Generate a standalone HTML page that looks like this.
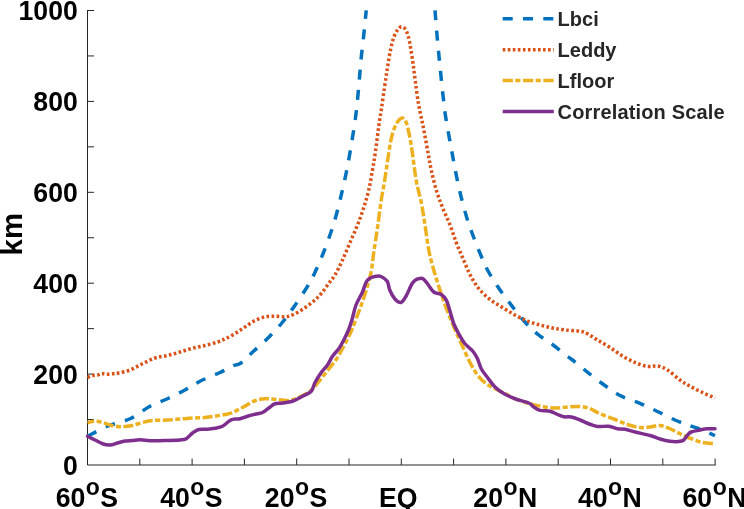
<!DOCTYPE html>
<html lang="en"><head><meta charset="utf-8"><title>Length scales</title>
<style>html,body{margin:0;padding:0;background:#fff}svg{display:block;will-change:transform}text{font-family:"Liberation Sans",Arial,Helvetica,sans-serif;font-weight:bold}</style></head><body>
<svg width="744" height="509" viewBox="0 0 744 509">
<rect width="744" height="509" fill="#fff"/>
<g stroke="#262626" stroke-width="1" fill="none" stroke-linecap="butt">
<path d="M87.50 10.00V465.00H715.60"/>
<path d="M139.80 465.00v-6.50M192.10 465.00v-6.50M244.40 465.00v-6.50M296.70 465.00v-6.50M349.00 465.00v-6.50M401.30 465.00v-6.50M453.60 465.00v-6.50M505.90 465.00v-6.50M558.20 465.00v-6.50M610.50 465.00v-6.50M662.80 465.00v-6.50M715.10 465.00v-6.50M87.50 419.55h6.50M87.50 374.10h6.50M87.50 328.65h6.50M87.50 283.20h6.50M87.50 237.75h6.50M87.50 192.30h6.50M87.50 146.85h6.50M87.50 101.40h6.50M87.50 55.95h6.50M87.50 10.50h6.50"/>
</g>
<g fill="none" stroke-width="3.5" stroke-linejoin="round">
<path stroke="#0072BD" stroke-dasharray="10 10.3" stroke-dashoffset="0" d="M87.50 436.25C90.83 434.58 100.42 429.17 107.50 426.25C114.58 423.33 122.92 422.08 130.00 418.75C137.08 415.42 143.75 409.58 150.00 406.25C156.25 402.92 161.67 401.46 167.50 398.75C173.33 396.04 179.58 392.92 185.00 390.00C190.42 387.08 194.17 384.17 200.00 381.25C205.83 378.33 214.42 375.08 220.00 372.50C225.58 369.92 230.00 367.33 233.50 365.75C237.00 364.17 237.67 365.42 241.00 363.00C244.33 360.58 248.92 355.50 253.50 351.25C258.08 347.00 263.71 342.29 268.50 337.50C273.29 332.71 278.08 327.50 282.25 322.50C286.42 317.50 289.54 313.12 293.50 307.50C297.46 301.88 302.62 294.17 306.00 288.75C309.38 283.33 311.00 280.62 313.75 275.00C316.50 269.38 319.79 261.67 322.50 255.00C325.21 248.33 327.71 241.67 330.00 235.00C332.29 228.33 334.38 221.67 336.25 215.00C338.12 208.33 339.67 201.67 341.25 195.00C342.83 188.33 344.29 182.08 345.75 175.00C347.21 167.92 348.46 161.46 350.00 152.50C351.54 143.54 353.75 130.00 355.00 121.25C356.25 112.50 356.75 107.29 357.50 100.00C358.25 92.71 358.88 84.58 359.50 77.50C360.12 70.42 360.54 64.58 361.25 57.50C361.96 50.42 362.92 42.87 363.75 35.00C364.58 27.13 365.83 14.42 366.25 10.30"/>
<path stroke="#0072BD" stroke-dasharray="10 10.3" stroke-dashoffset="0" d="M435.00 10.30C435.33 14.42 436.33 27.34 437.00 35.00C437.67 42.66 438.33 49.38 439.00 56.25C439.67 63.12 440.29 69.38 441.00 76.25C441.71 83.12 442.46 90.62 443.25 97.50C444.04 104.38 444.29 108.33 445.75 117.50C447.21 126.67 450.25 142.92 452.00 152.50C453.75 162.08 454.71 167.50 456.25 175.00C457.79 182.50 459.38 190.00 461.25 197.50C463.12 205.00 465.42 213.33 467.50 220.00C469.58 226.67 471.46 231.46 473.75 237.50C476.04 243.54 478.96 250.83 481.25 256.25C483.54 261.67 484.79 265.00 487.50 270.00C490.21 275.00 493.96 280.93 497.50 286.25C501.04 291.57 504.17 295.94 508.75 301.90C513.33 307.86 520.00 316.48 525.00 322.00C530.00 327.52 534.17 331.25 538.75 335.00C543.33 338.75 548.12 341.25 552.50 344.50C556.88 347.75 561.67 351.92 565.00 354.50C568.33 357.08 569.00 357.25 572.50 360.00C576.00 362.75 581.00 367.04 586.00 371.00C591.00 374.96 596.83 379.67 602.50 383.75C608.17 387.83 613.75 392.23 620.00 395.50C626.25 398.77 633.75 400.73 640.00 403.40C646.25 406.07 651.67 408.73 657.50 411.50C663.33 414.27 669.58 417.62 675.00 420.00C680.42 422.38 685.42 424.08 690.00 425.75C694.58 427.42 698.33 428.33 702.50 430.00C706.67 431.67 712.92 434.79 715.00 435.75"/>
<path stroke="#D95319" stroke-dasharray="2.65 2.39" stroke-dashoffset="0" d="M87.50 377.50C88.25 377.18 90.42 375.97 92.00 375.60C93.58 375.23 95.42 375.63 97.00 375.30C98.58 374.97 100.00 373.77 101.50 373.60C103.00 373.43 104.25 374.27 106.00 374.30C107.75 374.33 109.92 374.02 112.00 373.80C114.08 373.58 115.50 373.63 118.50 373.00C121.50 372.37 126.00 371.54 130.00 370.00C134.00 368.46 138.33 365.75 142.50 363.75C146.67 361.75 150.83 359.38 155.00 358.00C159.17 356.62 163.33 356.50 167.50 355.50C171.67 354.50 175.83 353.21 180.00 352.00C184.17 350.79 188.33 349.33 192.50 348.25C196.67 347.17 200.83 346.54 205.00 345.50C209.17 344.46 214.00 343.17 217.50 342.00C221.00 340.83 222.92 340.00 226.00 338.50C229.08 337.00 232.67 335.04 236.00 333.00C239.33 330.96 242.67 328.42 246.00 326.25C249.33 324.08 252.67 321.58 256.00 320.00C259.33 318.42 262.67 317.38 266.00 316.75C269.33 316.12 272.67 316.25 276.00 316.25C279.33 316.25 283.08 317.04 286.00 316.75C288.92 316.46 290.58 315.83 293.50 314.50C296.42 313.17 300.17 310.96 303.50 308.75C306.83 306.54 310.58 303.75 313.50 301.25C316.42 298.75 318.50 296.67 321.00 293.75C323.50 290.83 326.17 286.88 328.50 283.75C330.83 280.62 332.67 278.96 335.00 275.00C337.33 271.04 340.00 265.42 342.50 260.00C345.00 254.58 347.50 248.33 350.00 242.50C352.50 236.67 355.21 230.83 357.50 225.00C359.79 219.17 361.88 213.33 363.75 207.50C365.62 201.67 367.29 196.25 368.75 190.00C370.21 183.75 371.38 176.46 372.50 170.00C373.62 163.54 374.46 158.54 375.50 151.25C376.54 143.96 377.79 133.12 378.75 126.25C379.71 119.38 380.29 116.46 381.25 110.00C382.21 103.54 383.46 94.58 384.50 87.50C385.54 80.42 386.50 73.75 387.50 67.50C388.50 61.25 389.46 55.00 390.50 50.00C391.54 45.00 392.58 40.83 393.75 37.50C394.92 34.17 396.25 31.79 397.50 30.00C398.75 28.21 400.00 26.96 401.25 26.75C402.50 26.54 403.83 27.17 405.00 28.75C406.17 30.33 407.29 32.92 408.25 36.25C409.21 39.58 409.92 43.96 410.75 48.75C411.58 53.54 412.46 59.38 413.25 65.00C414.04 70.62 414.67 76.25 415.50 82.50C416.33 88.75 417.29 96.67 418.25 102.50C419.21 108.33 420.42 113.42 421.25 117.50C422.08 121.58 422.12 121.17 423.25 127.00C424.38 132.83 426.67 145.33 428.00 152.50C429.33 159.67 429.88 163.75 431.25 170.00C432.62 176.25 434.38 183.75 436.25 190.00C438.12 196.25 440.21 201.67 442.50 207.50C444.79 213.33 447.71 219.17 450.00 225.00C452.29 230.83 454.17 237.08 456.25 242.50C458.33 247.92 460.42 252.58 462.50 257.50C464.58 262.42 466.88 268.04 468.75 272.00C470.62 275.96 471.88 278.25 473.75 281.25C475.62 284.25 477.29 286.96 480.00 290.00C482.71 293.04 486.25 296.58 490.00 299.50C493.75 302.42 498.33 304.92 502.50 307.50C506.67 310.08 510.83 312.75 515.00 315.00C519.17 317.25 523.33 319.33 527.50 321.00C531.67 322.67 535.83 323.83 540.00 325.00C544.17 326.17 548.33 327.17 552.50 328.00C556.67 328.83 560.42 329.46 565.00 330.00C569.58 330.54 576.25 330.62 580.00 331.25C583.75 331.88 584.58 332.29 587.50 333.75C590.42 335.21 593.75 337.71 597.50 340.00C601.25 342.29 605.83 344.83 610.00 347.50C614.17 350.17 618.33 353.50 622.50 356.00C626.67 358.50 630.83 360.75 635.00 362.50C639.17 364.25 643.75 365.92 647.50 366.50C651.25 367.08 654.17 365.42 657.50 366.00C660.83 366.58 663.75 367.67 667.50 370.00C671.25 372.33 676.25 377.29 680.00 380.00C683.75 382.71 686.25 384.17 690.00 386.25C693.75 388.33 698.33 390.54 702.50 392.50C706.67 394.46 712.92 397.08 715.00 398.00"/>
<path stroke="#EDB120" stroke-dasharray="10 2.5 5 2.5" stroke-dashoffset="3.3" d="M87.50 422.50C88.75 422.29 92.50 421.25 95.00 421.25C97.50 421.25 100.00 421.88 102.50 422.50C105.00 423.12 107.50 424.33 110.00 425.00C112.50 425.67 115.00 426.25 117.50 426.50C120.00 426.75 122.50 426.67 125.00 426.50C127.50 426.33 129.58 426.17 132.50 425.50C135.42 424.83 139.17 423.33 142.50 422.50C145.83 421.67 148.33 420.92 152.50 420.50C156.67 420.08 162.92 420.25 167.50 420.00C172.08 419.75 175.83 419.33 180.00 419.00C184.17 418.67 188.33 418.25 192.50 418.00C196.67 417.75 200.83 417.88 205.00 417.50C209.17 417.12 213.33 416.43 217.50 415.75C221.67 415.07 225.83 414.77 230.00 413.40C234.17 412.02 238.33 409.61 242.50 407.50C246.67 405.39 251.25 402.21 255.00 400.75C258.75 399.29 261.67 399.00 265.00 398.75C268.33 398.50 271.25 398.96 275.00 399.25C278.75 399.54 283.75 400.71 287.50 400.50C291.25 400.29 293.75 399.54 297.50 398.00C301.25 396.46 306.25 394.25 310.00 391.25C313.75 388.25 316.67 383.96 320.00 380.00C323.33 376.04 327.08 371.25 330.00 367.50C332.92 363.75 335.21 361.04 337.50 357.50C339.79 353.96 342.00 349.50 343.75 346.25C345.50 343.00 346.58 340.92 348.00 338.00C349.42 335.08 350.50 333.00 352.25 328.75C354.00 324.50 356.62 317.50 358.50 312.50C360.38 307.50 361.83 303.75 363.50 298.75C365.17 293.75 367.17 287.29 368.50 282.50C369.83 277.71 370.62 275.00 371.50 270.00C372.38 265.00 372.75 259.58 373.75 252.50C374.75 245.42 376.25 236.25 377.50 227.50C378.75 218.75 380.13 207.37 381.25 200.00C382.37 192.63 383.29 188.85 384.20 183.30C385.11 177.75 385.87 172.25 386.70 166.70C387.53 161.15 388.37 155.00 389.20 150.00C390.03 145.00 390.73 140.58 391.70 136.70C392.67 132.82 393.90 129.35 395.00 126.70C396.10 124.05 397.13 122.25 398.30 120.80C399.47 119.35 400.88 118.13 402.00 118.00C403.12 117.87 404.08 118.55 405.00 120.00C405.92 121.45 406.67 123.65 407.50 126.70C408.33 129.75 409.22 134.13 410.00 138.30C410.78 142.47 411.50 146.97 412.20 151.70C412.90 156.43 413.45 161.43 414.20 166.70C414.95 171.97 415.52 177.33 416.70 183.30C417.88 189.27 419.87 195.55 421.25 202.50C422.63 209.45 423.75 217.08 425.00 225.00C426.25 232.92 427.29 242.50 428.75 250.00C430.21 257.50 432.08 263.96 433.75 270.00C435.42 276.04 437.08 281.04 438.75 286.25C440.42 291.46 441.88 296.04 443.75 301.25C445.62 306.46 447.92 312.29 450.00 317.50C452.08 322.71 454.17 327.71 456.25 332.50C458.33 337.29 460.21 341.25 462.50 346.25C464.79 351.25 467.50 357.71 470.00 362.50C472.50 367.29 474.79 371.46 477.50 375.00C480.21 378.54 483.33 381.46 486.25 383.75C489.17 386.04 491.88 387.12 495.00 388.75C498.12 390.38 501.67 391.83 505.00 393.50C508.33 395.17 510.83 397.04 515.00 398.75C519.17 400.46 525.42 402.46 530.00 403.75C534.58 405.04 538.33 405.77 542.50 406.50C546.67 407.23 550.83 408.02 555.00 408.10C559.17 408.18 563.33 407.27 567.50 407.00C571.67 406.73 576.25 406.22 580.00 406.50C583.75 406.78 586.67 407.49 590.00 408.70C593.33 409.91 595.83 411.95 600.00 413.75C604.17 415.55 610.42 417.71 615.00 419.50C619.58 421.29 623.33 423.17 627.50 424.50C631.67 425.83 636.25 427.08 640.00 427.50C643.75 427.92 646.67 427.33 650.00 427.00C653.33 426.67 656.67 425.21 660.00 425.50C663.33 425.79 666.67 427.38 670.00 428.75C673.33 430.12 676.67 432.17 680.00 433.75C683.33 435.33 686.25 436.79 690.00 438.25C693.75 439.71 698.54 441.58 702.50 442.50C706.46 443.42 711.88 443.54 713.75 443.75"/>
<path stroke="#7E2F8E" stroke-linecap="round" d="M87.50 436.25C88.75 436.88 92.50 438.75 95.00 440.00C97.50 441.25 100.00 442.92 102.50 443.75C105.00 444.58 107.50 445.12 110.00 445.00C112.50 444.88 115.00 443.67 117.50 443.00C120.00 442.33 122.50 441.42 125.00 441.00C127.50 440.58 130.00 440.71 132.50 440.50C135.00 440.29 136.67 439.71 140.00 439.75C143.33 439.79 147.92 440.62 152.50 440.75C157.08 440.88 162.92 440.62 167.50 440.50C172.08 440.38 176.88 440.29 180.00 440.00C183.12 439.71 184.17 439.92 186.25 438.75C188.33 437.58 190.42 434.54 192.50 433.00C194.58 431.46 196.25 430.12 198.75 429.50C201.25 428.88 204.79 429.46 207.50 429.25C210.21 429.04 212.50 428.75 215.00 428.25C217.50 427.75 220.00 427.54 222.50 426.25C225.00 424.96 227.92 421.71 230.00 420.50C232.08 419.29 233.33 419.29 235.00 419.00C236.67 418.71 237.92 419.21 240.00 418.75C242.08 418.29 245.00 417.00 247.50 416.25C250.00 415.50 252.50 414.88 255.00 414.25C257.50 413.62 260.21 413.54 262.50 412.50C264.79 411.46 266.67 409.46 268.75 408.00C270.83 406.54 272.71 404.58 275.00 403.75C277.29 402.92 279.58 403.42 282.50 403.00C285.42 402.58 289.17 402.38 292.50 401.25C295.83 400.12 299.38 397.92 302.50 396.25C305.62 394.58 309.17 393.54 311.25 391.25C313.33 388.96 313.33 385.62 315.00 382.50C316.67 379.38 319.17 375.42 321.25 372.50C323.33 369.58 325.62 367.71 327.50 365.00C329.38 362.29 330.62 358.96 332.50 356.25C334.38 353.54 336.88 351.46 338.75 348.75C340.62 346.04 342.12 343.12 343.75 340.00C345.38 336.88 347.08 333.54 348.50 330.00C349.92 326.46 351.00 322.92 352.25 318.75C353.50 314.58 354.33 309.38 356.00 305.00C357.67 300.62 360.58 296.25 362.25 292.50C363.92 288.75 364.75 284.88 366.00 282.50C367.25 280.12 368.08 279.29 369.75 278.25C371.42 277.21 374.12 276.54 376.00 276.25C377.88 275.96 379.12 275.67 381.00 276.50C382.88 277.33 385.79 279.00 387.25 281.25C388.71 283.50 388.50 287.08 389.75 290.00C391.00 292.92 392.88 296.67 394.75 298.75C396.62 300.83 399.12 302.92 401.00 302.50C402.88 302.08 404.17 299.38 406.00 296.25C407.83 293.12 410.25 286.56 412.00 283.75C413.75 280.94 415.25 280.26 416.50 279.40C417.75 278.54 418.42 278.72 419.50 278.60C420.58 278.48 421.67 277.84 423.00 278.70C424.33 279.56 425.71 281.53 427.50 283.75C429.29 285.97 431.46 290.21 433.75 292.00C436.04 293.79 439.17 293.17 441.25 294.50C443.33 295.83 444.79 297.21 446.25 300.00C447.71 302.79 448.75 307.29 450.00 311.25C451.25 315.21 452.29 320.00 453.75 323.75C455.21 327.50 456.88 330.42 458.75 333.75C460.62 337.08 462.71 340.92 465.00 343.75C467.29 346.58 470.42 348.25 472.50 350.75C474.58 353.25 476.04 355.75 477.50 358.75C478.96 361.75 479.58 365.62 481.25 368.75C482.92 371.88 485.21 374.46 487.50 377.50C489.79 380.54 492.29 384.33 495.00 387.00C497.71 389.67 500.42 391.54 503.75 393.50C507.08 395.46 510.83 397.17 515.00 398.75C519.17 400.33 525.62 401.62 528.75 403.00C531.88 404.38 531.88 405.77 533.75 407.00C535.62 408.23 537.29 409.69 540.00 410.40C542.71 411.11 547.08 410.57 550.00 411.25C552.92 411.93 555.21 413.58 557.50 414.50C559.79 415.42 561.46 416.33 563.75 416.75C566.04 417.17 568.54 416.46 571.25 417.00C573.96 417.54 576.88 418.79 580.00 420.00C583.12 421.21 587.08 423.17 590.00 424.25C592.92 425.33 594.38 426.17 597.50 426.50C600.62 426.83 605.42 425.88 608.75 426.25C612.08 426.62 614.79 428.25 617.50 428.75C620.21 429.25 622.08 428.71 625.00 429.25C627.92 429.79 630.83 430.96 635.00 432.00C639.17 433.04 645.83 434.33 650.00 435.50C654.17 436.67 656.67 438.04 660.00 439.00C663.33 439.96 666.88 440.83 670.00 441.25C673.12 441.67 676.46 441.71 678.75 441.50C681.04 441.29 682.29 441.08 683.75 440.00C685.21 438.92 686.25 436.33 687.50 435.00C688.75 433.67 689.17 432.83 691.25 432.00C693.33 431.17 697.29 430.54 700.00 430.00C702.71 429.46 705.00 428.96 707.50 428.75C710.00 428.54 713.75 428.75 715.00 428.75"/>
</g>
<g fill="none" stroke-width="3.5">
<path stroke="#0072BD" stroke-dasharray="10 10.3" d="M502.70 18.80H553.80"/>
<path stroke="#D95319" stroke-dasharray="2.65 2.39" d="M502.70 49.80H553.80"/>
<path stroke="#EDB120" stroke-dasharray="10.2 2.4 5.1 2.65" d="M502.70 80.60H553.80"/>
<path stroke="#7E2F8E" d="M502.70 111.40H553.80"/>
</g>
<g font-size="20" fill="#262626">
<text transform="translate(557.60 25.95) scale(1 1.04)">Lbci</text>
<text transform="translate(557.60 56.95) scale(1 1.04)">Leddy</text>
<text transform="translate(557.60 87.75) scale(1 1.04)">Lfloor</text>
<text transform="translate(557.60 118.55) scale(1 1.04)" letter-spacing="0.16">Correlation Scale</text>
</g>
<g font-size="26.67" fill="#000" text-anchor="end">
<text transform="translate(77.80 474.65) scale(1 1.07)">0</text>
<text transform="translate(77.80 383.75) scale(1 1.07)">200</text>
<text transform="translate(77.80 292.85) scale(1 1.07)">400</text>
<text transform="translate(77.80 201.95) scale(1 1.07)">600</text>
<text transform="translate(77.80 111.05) scale(1 1.07)">800</text>
<text transform="translate(77.80 20.15) scale(1 1.07)">1000</text>
</g>
<g font-size="26.67" fill="#000" text-anchor="middle">
<text text-anchor="start" transform="translate(55.65 506.75) scale(1 1.07)">60</text>
<text text-anchor="start" font-size="23" x="85.76" y="494.80">o</text>
<text text-anchor="start" transform="translate(100.26 506.75) scale(1 1.07)">S</text>
<text text-anchor="start" transform="translate(160.25 506.75) scale(1 1.07)">40</text>
<text text-anchor="start" font-size="23" x="190.36" y="494.80">o</text>
<text text-anchor="start" transform="translate(204.86 506.75) scale(1 1.07)">S</text>
<text text-anchor="start" transform="translate(264.85 506.75) scale(1 1.07)">20</text>
<text text-anchor="start" font-size="23" x="294.96" y="494.80">o</text>
<text text-anchor="start" transform="translate(309.46 506.75) scale(1 1.07)">S</text>
<text transform="translate(398.25 506.75) scale(1 1.07)">EQ</text>
<text text-anchor="start" transform="translate(473.31 506.75) scale(1 1.07)">20</text>
<text text-anchor="start" font-size="23" x="503.43" y="494.80">o</text>
<text text-anchor="start" transform="translate(517.93 506.75) scale(1 1.07)">N</text>
<text text-anchor="start" transform="translate(577.91 506.75) scale(1 1.07)">40</text>
<text text-anchor="start" font-size="23" x="608.03" y="494.80">o</text>
<text text-anchor="start" transform="translate(622.53 506.75) scale(1 1.07)">N</text>
<text text-anchor="start" transform="translate(682.51 506.75) scale(1 1.07)">60</text>
<text text-anchor="start" font-size="23" x="712.63" y="494.80">o</text>
<text text-anchor="start" transform="translate(727.13 506.75) scale(1 1.07)">N</text>
</g>
<text font-size="29.33" fill="#000" text-anchor="middle" transform="translate(21.60 234.20) rotate(-90) scale(1 0.99)">km</text>
</svg></body></html>
